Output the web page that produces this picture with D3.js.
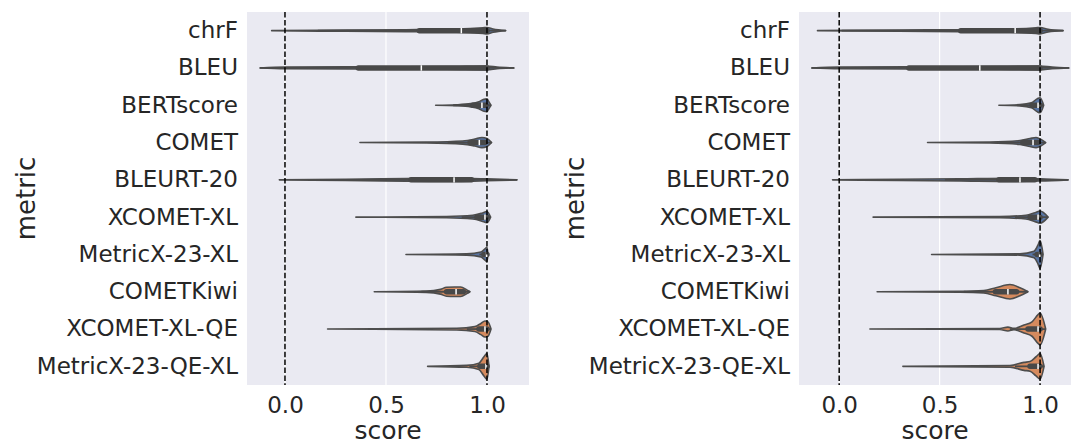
<!DOCTYPE html>
<html>
<head>
<meta charset="utf-8">
<script src="https://cdn.jsdelivr.net/npm/d3@7"></script>
<style>
  body { margin: 0; background: #fff; }
  text { font-family: "DejaVu Sans", sans-serif; fill: #262626; }
</style>
</head>
<body>
<svg id="chart" width="1072" height="442"></svg>
<script>
// categories
const metrics = ["chrF", "BLEU", "BERTscore", "COMET", "BLEURT-20", "XCOMET-XL",
                 "MetricX-23-XL", "COMETKiwi", "XCOMET-XL-QE", "MetricX-23-QE-XL"];
const metricType = ["ref", "ref", "ref", "ref", "ref", "ref", "ref", "qe", "qe", "qe"];
const xTicks = [0, 0.5, 1.0];
const xTickLabels = ["0.0", "0.5", "1.0"];
const refLines = [0, 1];

// left panel: violin extent, quartiles, median
const leftLo  = [-0.066, -0.124, 0.746, 0.371, -0.028, 0.351, 0.599, 0.442, 0.211, 0.706];
const leftHi  = [1.093, 1.134, 1.02, 1.023, 1.149, 1.018, 1.005, 0.916, 1.02, 1.01];
const leftQ1  = [0.665, 0.363, 0.93, 0.916, 0.624, 0.95, 0.985, 0.80, 0.96, 0.965];
const leftMed = [0.873, 0.675, 0.975, 0.962, 0.837, 0.99, 0.998, 0.847, 0.99, 0.995];
const leftQ3  = [1.0, 1.0, 0.995, 0.99, 0.924, 1.0, 1.0, 0.883, 1.0, 1.0];
// density: [score, relative density]
const leftDensity = [
  [[-0.066,0],[0.3,0.04],[0.6,0.06],[0.85,0.1],[0.98,0.18],[1.0,0.2],[1.03,0.1],[1.093,0]],
  [[-0.124,0],[0,0.05],[0.4,0.07],[0.8,0.08],[1.0,0.12],[1.05,0.05],[1.134,0]],
  [[0.746,0],[0.85,0.03],[0.92,0.1],[0.96,0.22],[0.985,0.38],[1.0,0.4],[1.01,0.2],[1.02,0]],
  [[0.371,0],[0.7,0.03],[0.88,0.1],[0.94,0.22],[0.975,0.32],[1.0,0.25],[1.023,0]],
  [[-0.028,0],[0.3,0.04],[0.6,0.08],[0.85,0.1],[1.0,0.06],[1.149,0]],
  [[0.351,0],[0.8,0.04],[0.93,0.12],[0.975,0.25],[1.0,0.35],[1.018,0]],
  [[0.599,0],[0.9,0.04],[0.97,0.15],[0.99,0.35],[1.0,0.45],[1.005,0]],
  [[0.442,0],[0.7,0.04],[0.77,0.15],[0.8,0.28],[0.84,0.3],[0.87,0.3],[0.9,0.12],[0.916,0]],
  [[0.211,0],[0.85,0.05],[0.94,0.15],[0.97,0.35],[0.99,0.5],[1.005,0.45],[1.02,0]],
  [[0.706,0],[0.9,0.06],[0.96,0.2],[0.985,0.6],[1.0,0.8],[1.01,0]]
];

// right panel
const rightLo  = [-0.108, -0.137, 0.795, 0.44, -0.033, 0.169, 0.46, 0.189, 0.153, 0.317];
const rightHi  = [1.115, 1.144, 1.018, 1.028, 1.14, 1.04, 1.015, 0.94, 1.028, 1.02];
const rightQ1  = [0.605, 0.347, 0.96, 0.914, 0.795, 0.95, 0.985, 0.778, 0.94, 0.95];
const rightMed = [0.876, 0.70, 0.99, 0.965, 0.90, 0.99, 0.998, 0.84, 0.99, 0.99];
const rightQ3  = [1.0, 1.0, 1.0, 0.99, 0.974, 1.0, 1.0, 0.883, 1.0, 1.0];
const rightDensity = [
  [[-0.108,0],[0.3,0.04],[0.6,0.06],[0.85,0.1],[0.98,0.18],[1.0,0.2],[1.04,0.08],[1.115,0]],
  [[-0.137,0],[0,0.05],[0.4,0.07],[0.8,0.08],[1.0,0.12],[1.06,0.05],[1.144,0]],
  [[0.795,0],[0.9,0.04],[0.957,0.15],[0.985,0.4],[1.0,0.47],[1.018,0]],
  [[0.44,0],[0.75,0.03],[0.9,0.12],[0.95,0.25],[0.98,0.32],[1.005,0.2],[1.028,0]],
  [[-0.033,0],[0.3,0.04],[0.6,0.07],[0.85,0.1],[1.0,0.07],[1.14,0]],
  [[0.169,0],[0.8,0.04],[0.93,0.12],[0.975,0.28],[1.0,0.38],[1.04,0]],
  [[0.46,0],[0.9,0.04],[0.97,0.2],[0.99,0.6],[1.0,0.88],[1.015,0]],
  [[0.189,0],[0.6,0.03],[0.72,0.08],[0.78,0.25],[0.85,0.45],[0.9,0.25],[0.94,0]],
  [[0.153,0],[0.8,0.03],[0.84,0.12],[0.87,0.04],[0.92,0.25],[0.96,0.45],[0.99,0.9],[1.0,1.0],[1.028,0]],
  [[0.317,0],[0.85,0.05],[0.92,0.25],[0.95,0.3],[0.98,0.6],[1.0,0.8],[1.02,0]]
];

const fillColor = { ref: "#5975a4", qe: "#d58a5e" };

class ViolinPanel {
  constructor(svg, opts) {
    this.left = opts.left;
    this.right = opts.right;
    this.top = 12;
    this.bottom = 385;

    this.x = d3.scaleLinear().domain(opts.domain).range([this.left, this.right]);
    this.y = d3.scaleBand().domain(metrics).range([this.top, this.bottom]);
    this.w = d3.scaleLinear().domain([0, 1]).range([0, 16]);

    const g = svg.append("g");

    g.append("rect")
      .attr("x", this.left).attr("y", this.top)
      .attr("width", this.right - this.left).attr("height", this.bottom - this.top)
      .attr("fill", "#eaeaf2");

    // vertical grid
    g.selectAll(".grid").data(xTicks).join("line")
      .attr("x1", d => this.x(d)).attr("x2", d => this.x(d))
      .attr("y1", this.top).attr("y2", this.bottom)
      .attr("stroke", "#fff").attr("stroke-width", 1.2);

    const xAxis = d3.axisBottom(this.x).tickValues(xTicks)
      .tickFormat((d, i) => xTickLabels[i]).tickSize(0).tickPadding(12);
    const ax = g.append("g").attr("transform", `translate(0,${this.bottom})`).call(xAxis);
    ax.select(".domain").remove();
    ax.selectAll("text").attr("font-size", 23).attr("fill", "#262626");

    const yAxis = d3.axisLeft(this.y).tickSize(0).tickPadding(9);
    const ay = g.append("g").attr("transform", `translate(${this.left},0)`).call(yAxis);
    ay.select(".domain").remove();
    ay.selectAll("text").attr("font-size", 23).attr("fill", "#262626");

    g.append("text")
      .attr("x", (this.left + this.right) / 2).attr("y", 439)
      .attr("text-anchor", "middle").attr("font-size", 25)
      .text("score");
    g.append("text")
      .attr("transform", `translate(${opts.labelX},${(this.top + this.bottom) / 2}) rotate(-90)`)
      .attr("text-anchor", "middle").attr("font-size", 26)
      .text("metric");

    const area = d3.area()
      .curve(d3.curveMonotoneX)
      .x(d => this.x(d[0]));

    metrics.forEach((m, i) => {
      const cy = this.y(m) + this.y.bandwidth() / 2;
      area.y0(d => cy - this.w(d[1])).y1(d => cy + this.w(d[1]));

      g.append("path")
        .datum(opts.density[i])
        .attr("d", area)
        .attr("fill", fillColor[metricType[i]])
        .attr("stroke", "#4d4d4d")
        .attr("stroke-width", 1.6)
        .attr("stroke-linejoin", "round");

      const q1 = opts.q1[i], q3 = opts.q3[i], iqr = q3 - q1;
      const wLo = Math.max(opts.lo[i], q1 - 1.5 * iqr);
      const wHi = Math.min(opts.hi[i], q3 + 1.5 * iqr);
      g.append("line")
        .attr("x1", this.x(wLo)).attr("x2", this.x(wHi))
        .attr("y1", cy).attr("y2", cy)
        .attr("stroke", "#4a4a4a").attr("stroke-width", 1.8);
      g.append("line")
        .attr("x1", this.x(q1)).attr("x2", this.x(q3))
        .attr("y1", cy).attr("y2", cy)
        .attr("stroke", "#484848").attr("stroke-width", 5.5)
        .attr("stroke-linecap", "round");
      g.append("line")
        .attr("x1", this.x(opts.med[i])).attr("x2", this.x(opts.med[i]))
        .attr("y1", cy - 2.7).attr("y2", cy + 2.7)
        .attr("stroke", "#ffffff").attr("stroke-width", 1.5);
    });

    // dashed reference lines
    g.selectAll(".ref").data(refLines).join("line")
      .attr("x1", d => this.x(d)).attr("x2", d => this.x(d))
      .attr("y1", this.top).attr("y2", this.bottom)
      .attr("stroke", "#000").attr("stroke-width", 1.5)
      .attr("stroke-dasharray", "5.5,2.4");
  }
}

const svg = d3.select("#chart");
new ViolinPanel(svg, {
  left: 247, right: 529, domain: [-0.188, 1.208], labelX: 35,
  lo: leftLo, hi: leftHi, q1: leftQ1, med: leftMed, q3: leftQ3, density: leftDensity
});
new ViolinPanel(svg, {
  left: 799, right: 1071, domain: [-0.2, 1.154], labelX: 584,
  lo: rightLo, hi: rightHi, q1: rightQ1, med: rightMed, q3: rightQ3, density: rightDensity
});
</script>
</body>
</html>
